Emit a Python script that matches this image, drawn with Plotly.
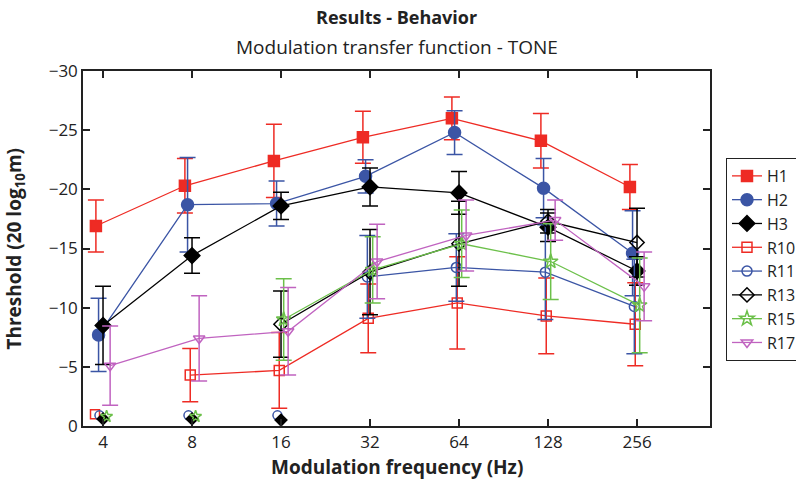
import plotly.graph_objects as go
import math

freqs = [4, 8, 16, 32, 64, 128, 256]
tick_labels = ["4", "8", "16", "32", "64", "128", "256"]

H1 = [-16.9, -20.3, -22.4, -24.4, -26.0, -24.1, -20.2]
H1_err = [2.2, 2.3, 3.1, 2.2, 1.8, 2.3, 1.9]
H2 = [-7.7, -18.7, -18.8, -21.1, -24.8, -20.1, -14.6]
H2_err = [3.1, 4.0, 1.9, 1.4, 1.85, 2.5, 3.6]
H3 = [-8.5, -14.4, -18.6, -20.2, -19.7, -16.8, -13.1]
H3_err = [3.3, 1.5, 1.15, 1.6, 1.8, 1.2, 1.2]
R10 = [None, -4.3, -4.7, -9.1, -10.4, -9.3, -8.6]
R10_err = [0, 2.25, 3.2, 2.9, 3.9, 3.2, 3.5]
R11 = [None, None, None, -12.6, -13.4, -13.0, -10.1]
R11_err = [0, 0, 0, 3.5, 2.85, 4.0, 4.0]
R13 = [None, None, -8.6, -13.0, -15.4, -17.3, -15.5]
R13_err = [0, 0, 2.8, 3.6, 3.6, 1.0, 2.9]
R15 = [None, None, -9.0, -13.2, -15.4, -13.9, -10.2]
R15_err = [0, 0, 3.45, 2.8, 2.85, 3.2, 4.0]
R17 = [-5.1, -7.4, -8.0, -13.9, -16.1, -17.4, -11.8]
R17_err = [3.35, 3.6, 3.7, 3.15, 3.0, 1.7, 2.9]

# unconnected points near the floor (animals at low frequencies)
R10_floor = [-1.0, None, None, None, None, None, None]
R11_floor = [-0.9, -0.9, -0.9, None, None, None, None]
R13_floor = [-0.6, -0.6, -0.5, None, None, None, None]
R15_floor = [-0.8, -0.8, None, None, None, None, None]

RED = "#ee2b24"
BLUE = "#3b55a5"
BLACK = "#000000"
GREEN = "#6cc04a"
MAGENTA = "#c063c0"

series = [
    ("H1", H1, H1_err, RED, "square", -0.08, 11),
    ("H2", H2, H2_err, BLUE, "circle", -0.05, 12),
    ("H3", H3, H3_err, BLACK, "diamond", 0.0, 12),
    ("R10", R10, R10_err, RED, "square-open", -0.02, 10),
    ("R11", R11, R11_err, BLUE, "circle-open", -0.03, 10),
    ("R13", R13, R13_err, BLACK, "diamond-open", 0.0, 11),
    ("R15", R15, R15_err, GREEN, "star-open", 0.03, 11),
    ("R17", R17, R17_err, MAGENTA, "triangle-down-open", 0.08, 10),
]

floors = [
    (R10_floor, RED, "square-open", -0.09),
    (R11_floor, BLUE, "circle-open", -0.04),
    (R13_floor, BLACK, "diamond", 0.0),
    (R15_floor, GREEN, "star-open", 0.04),
]

fig = go.Figure()

for name, vals, errs, col, sym, off, ms in series:
    xs = [f * 2 ** off for f in freqs]
    fig.add_trace(go.Scatter(
        x=xs, y=vals, name=name, mode="lines+markers",
        line=dict(color=col, width=1.3),
        marker=dict(symbol=sym, size=ms, color=col,
                    line=dict(color=col, width=1.5)),
        error_y=dict(type="data", array=errs, visible=True,
                     color=col, thickness=1.5, width=8),
        connectgaps=False,
    ))

for vals, col, sym, off in floors:
    xs = [f * 2 ** off for f in freqs]
    fig.add_trace(go.Scatter(
        x=xs, y=vals, mode="markers", showlegend=False,
        marker=dict(symbol=sym, size=9, color=col,
                    line=dict(color=col, width=1.5)),
        hoverinfo="skip",
    ))

L2 = math.log10(2)
fig.update_layout(
    width=796, height=486,
    margin=dict(l=83, r=86, t=71, b=60, autoexpand=False),
    paper_bgcolor="white", plot_bgcolor="white",
    font=dict(family="Open Sans", size=17, color="#222"),
    showlegend=True,
    legend=dict(
        x=1.0255, y=0.755, xanchor="left", yanchor="top",
        bordercolor="#222", borderwidth=1, bgcolor="white",
        font=dict(size=16, color="#222"),
        tracegroupgap=0, itemwidth=30,
    ),
    xaxis=dict(
        type="log",
        range=[math.log10(4) - 0.225 * L2, math.log10(256) + 0.82 * L2],
        tickvals=freqs, ticktext=tick_labels,
        ticks="inside", ticklen=7, tickwidth=1.5, tickcolor="#222",
        showline=True, linecolor="#222", linewidth=1.5, mirror="ticks",
        showgrid=False, zeroline=False,
        tickfont=dict(size=17),
    ),
    yaxis=dict(
        range=[0, -30],
        tickvals=[-30, -25, -20, -15, -10, -5, 0],
        ticks="inside", ticklen=7, tickwidth=1.5, tickcolor="#222",
        showline=True, linecolor="#222", linewidth=1.5, mirror="ticks",
        showgrid=False, zeroline=False,
        tickfont=dict(size=17),
    ),
    annotations=[
        dict(text="<b>Results - Behavior</b>", x=0.5, y=1.152,
             xref="paper", yref="paper", showarrow=False,
             xanchor="center", yanchor="middle", font=dict(size=18)),
        dict(text="Modulation transfer function - TONE", x=0.5, y=1.0676,
             xref="paper", yref="paper", showarrow=False,
             xanchor="center", yanchor="middle", font=dict(size=19)),
        dict(text="<b>Modulation frequency (Hz)</b>", x=0.5, y=-0.115,
             xref="paper", yref="paper", showarrow=False,
             xanchor="center", yanchor="middle", font=dict(size=19)),
        dict(text="<b>Threshold (20 log<sub>10</sub>m)</b>", x=-0.11, y=0.5,
             xref="paper", yref="paper", showarrow=False, textangle=-90,
             xanchor="center", yanchor="middle", font=dict(size=19)),
    ],
)

fig.write_html("out.html")
